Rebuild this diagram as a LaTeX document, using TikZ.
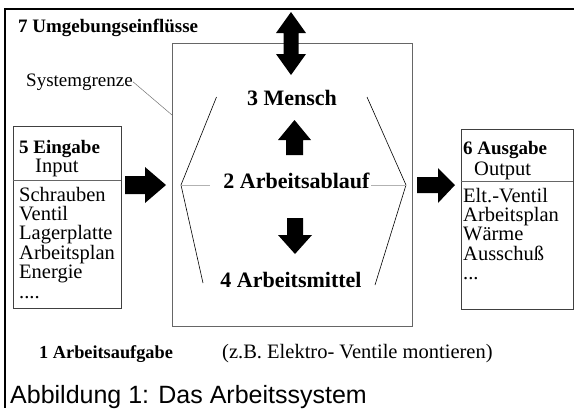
\documentclass[tikz,border=0pt]{standalone}
\usepackage{fontspec}
\setmainfont{Liberation Serif}
\newfontfamily\capfont{Liberation Sans}
\begin{document}
\begin{tikzpicture}[x=1pt,y=-1pt,
  lst/.style={anchor=base west,inner sep=0pt,font=\fontsize{20.5}{20}\selectfont},
  bld/.style={anchor=base,inner sep=0pt,font=\fontsize{22}{24}\selectfont\bfseries},
  hdr/.style={anchor=base west,inner sep=0pt,font=\fontsize{19}{20}\selectfont\bfseries},
  boxline/.style={draw=black!75,line width=0.9pt},
  sysline/.style={draw=black!60,line width=0.9pt},
  hexline/.style={draw=black,line width=0.6pt},
  blockarrow/.style={fill=black,draw=none}]
\useasboundingbox (0,0) rectangle (574,408);
% outer frame
\draw[line width=2.5pt] (574,9) -- (5,9) -- (5,408);
% system box
\node[sysline,rectangle,minimum width=240pt,minimum height=283pt,inner sep=0pt] (sys) at (292,184.5) {};
% heading
\node[hdr] (umg) at (18,32) {7 Umgebungseinfl\"usse};
% Systemgrenze label and leader
\node[anchor=base west,inner sep=0pt,font=\fontsize{19}{20}\selectfont] (sg) at (26,86) {Systemgrenze};
\coordinate (sgend) at (172,115);
\draw[draw=black!55,line width=0.5pt] (sg.east) -- (sgend);
% double arrow on top
\fill[blockarrow] (291,12) -- (306,33) -- (298.5,33) -- (298.5,54) -- (306,54) -- (291,75) -- (276,54) -- (283.5,54) -- (283.5,33) -- (276,33) -- cycle;
% inner labels
\node[bld] (mensch) at (292,105) {3 Mensch};
\node[bld] (ablauf) at (296.5,188) {2 Arbeitsablauf};
\node[bld] (mittel) at (291,287) {4 Arbeitsmittel};
% small arrows
\fill[blockarrow] (294.5,120) -- (311,140) -- (303,140) -- (303,155) -- (286,155) -- (286,140) -- (278,140) -- cycle;
\fill[blockarrow] (295,254) -- (312,235) -- (303,235) -- (303,218) -- (287,218) -- (287,235) -- (278,235) -- cycle;
% hexagon-like lines
\coordinate (hl) at (181,185);
\coordinate (hr) at (406,185);
\coordinate (hul) at (216.5,97);
\coordinate (hur) at (367,97);
\coordinate (hll) at (203,283);
\coordinate (hlr) at (375,285);
\draw[hexline] (hul) -- (hl) -- (hll);
\draw[hexline] (hur) -- (hr) -- (hlr);
\coordinate (gl) at (210,185);
\coordinate (gr) at (371,185);
\draw[draw=black!30,line width=0.8pt] (hl) -- (gl);
\draw[draw=black!30,line width=0.8pt] (gr) -- (hr);
% input box
\node[boxline,rectangle,minimum width=108pt,minimum height=182pt,inner sep=0pt] (inbox) at (67,217) {};
\draw[draw=black!60,line width=0.7pt] ([yshift=-55pt]inbox.north west) -- ([yshift=-55pt]inbox.north east);
\node[hdr] (ein) at (19,153) {5 Eingabe};
\node[lst] (inp) at (35,172) {Input};
\node[lst] (in1) at (19,201) {Schrauben};
\node[lst] (in2) at (19,220.4) {Ventil};
\node[lst] (in3) at (19,239.8) {Lagerplatte};
\node[lst] (in4) at (19,259.2) {Arbeitsplan};
\node[lst] (in5) at (19,278.6) {Energie};
\node[lst] (in6) at (19,298) {....};
% output box
\node[boxline,rectangle,minimum width=112pt,minimum height=180pt,inner sep=0pt] (outbox) at (517,219) {};
\draw[draw=black!60,line width=0.7pt] ([yshift=-53pt]outbox.north west) -- ([yshift=-53pt]outbox.north east);
\node[hdr] (aus) at (463,154) {6 Ausgabe};
\node[lst] (outp) at (474,175) {Output};
\node[lst] (out1) at (463,202) {Elt.-Ventil};
\node[lst] (out2) at (463,221.4) {Arbeitsplan};
\node[lst] (out3) at (463,240.8) {W\"arme};
\node[lst] (out4) at (463,260.2) {Ausschu\ss};
\node[lst] (out5) at (463,279.6) {...};
% block arrows in / out
\fill[blockarrow] (125,176) -- (145,176) -- (145,167) -- (166,185) -- (145,203) -- (145,194) -- (125,194) -- cycle;
\fill[blockarrow] (417,177) -- (438,177) -- (438,168) -- (455,185) -- (438,203) -- (438,193) -- (417,193) -- cycle;
% bottom texts
\node[anchor=base west,inner sep=0pt,font=\fontsize{18.3}{20}\selectfont\bfseries] (aufg) at (39,358) {1 Arbeitsaufgabe};
\node[anchor=base west,inner sep=0pt,font=\fontsize{20.5}{22}\selectfont] (bsp) at (222,358) {(z.B. Elektro- Ventile montieren)};
\node[anchor=base west,inner sep=0pt,font=\capfont\fontsize{25}{27}\selectfont] (cap) at (10,403) {Abbildung 1: Das Arbeitssystem};
\end{tikzpicture}
\end{document}
